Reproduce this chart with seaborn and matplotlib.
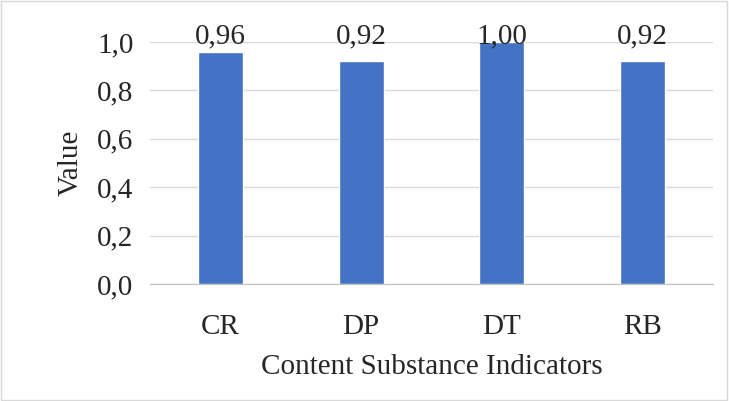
import matplotlib
matplotlib.use("Agg")
import matplotlib.pyplot as plt
import seaborn as sns
import pandas as pd
from matplotlib.ticker import FuncFormatter

categories = ["CR", "DP", "DT", "RB"]
values = [0.96, 0.92, 1.00, 0.92]

sns.set_style("white")
plt.rcParams["font.family"] = ["Liberation Serif", "DejaVu Serif"]

df = pd.DataFrame({"Indicator": categories, "Value": values})

fig = plt.figure(figsize=(7.29, 4.01), dpi=100)
ax = fig.add_axes([0.206, 0.292, 0.772, 0.603])
sns.barplot(data=df, x="Indicator", y="Value", color="#4472C4", saturation=1,
            width=0.32, ax=ax, zorder=3)

ax.set_ylim(0, 1.0)
ax.set_yticks([0, 0.2, 0.4, 0.6, 0.8, 1.0])
ax.yaxis.set_major_formatter(FuncFormatter(lambda v, p: f"{v:.1f}".replace(".", ",")))
ax.grid(axis="y", color="#D9D9D9", linewidth=1, zorder=0)
ax.set_axisbelow(True)
for s in ["top", "right", "left"]:
    ax.spines[s].set_visible(False)
ax.spines["bottom"].set_color("#BFBFBF")
ax.tick_params(axis="y", length=0, labelsize=21, pad=12)
ax.tick_params(axis="x", length=0, labelsize=21, pad=22)
ax.set_xlabel("Content Substance Indicators", fontsize=21, labelpad=10)
ax.set_ylabel("Value", fontsize=21, labelpad=10)

# data labels sit in a row just above the top gridline
for i, v in enumerate(values):
    ax.text(i, 0.995, f"{v:.2f}".replace(".", ","), ha="center", va="baseline",
            fontsize=21, zorder=4, clip_on=False)

fig.patches.append(plt.Rectangle((0.002, 0.003), 0.995, 0.994, transform=fig.transFigure,
                                 fill=False, edgecolor="#D9D9D9", linewidth=1))
fig.savefig("out.png", dpi=100)
